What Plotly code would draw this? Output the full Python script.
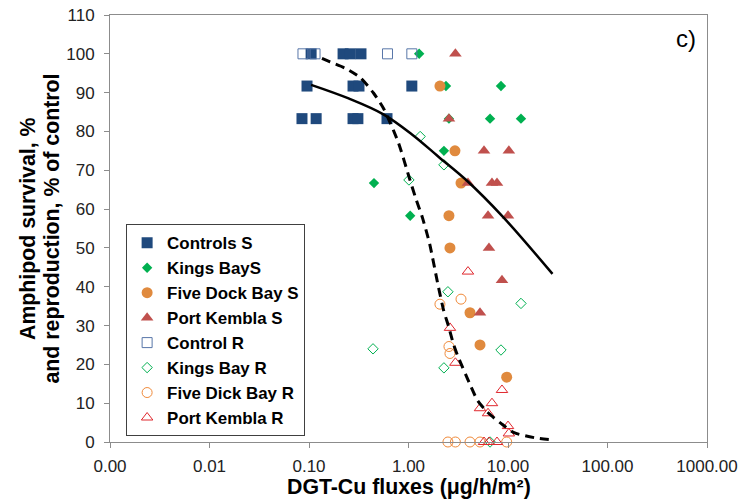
import plotly.graph_objects as go

# ---- data ----
controls_s_x = [0.105, 0.22, 0.26, 0.333, 0.0955, 0.277, 0.318, 1.08, 0.085, 0.118, 0.277, 0.31, 0.608]
controls_s_y = [100, 100, 100, 100, 91.7, 91.7, 91.7, 91.7, 83.3, 83.3, 83.3, 83.3, 83.3]

kings_s_x = [1.28, 2.38, 8.5, 2.55, 6.6, 13.5, 2.27, 0.45, 1.04]
kings_s_y = [100, 91.7, 91.7, 83.3, 83.3, 83.3, 75, 66.7, 58.3]

fivedock_s_x = [2.07, 2.93, 3.37, 2.55, 2.61, 4.15, 5.23, 9.7]
fivedock_s_y = [91.7, 75, 66.7, 58.3, 50, 33.3, 25, 16.7]

portk_s_x = [2.96, 2.55, 5.74, 10.2, 3.96, 6.9, 7.75, 6.3, 10.0, 6.44, 8.7, 5.23]
portk_s_y = [100, 83.3, 75, 75, 66.7, 66.7, 66.7, 58.3, 58.3, 50, 41.7, 33.3]

control_r_x = [0.087, 0.115, 0.615, 1.08]
control_r_y = [100, 100, 100, 100]

kings_r_x = [1.31, 2.27, 1.01, 2.49, 13.5, 8.5, 2.27, 0.44, 6.6]
kings_r_y = [78.7, 71.4, 67.5, 38.7, 35.7, 23.7, 19.1, 24, 0]

fivedick_r_x = [2.07, 3.37, 2.55, 2.61, 2.49, 2.96, 4.15, 5.23, 9.7]
fivedick_r_y = [35.5, 36.8, 24.6, 22.8, 0, 0, 0, 0, 0]

portk_r_x = [3.96, 2.61, 2.96, 8.7, 6.9, 5.23, 6.3, 10.0, 10.2, 5.74, 6.44, 7.75]
portk_r_y = [43.9, 29.4, 20.4, 13.4, 10, 8.7, 7.4, 4.1, 2.2, 0, 0, 0]

# fitted curves
solid_x = [0.105, 0.25, 0.56, 1.1, 2.0, 3.8, 8.9, 28]
solid_y = [92, 88.5, 84.4, 79.1, 73.5, 67.5, 58, 43.3]

dashed_x = [0.135, 0.163, 0.235, 0.33, 0.445, 0.565, 0.79, 1.02, 1.175, 1.38, 1.63, 1.96,
            2.25, 2.52, 2.83, 3.1, 4.09, 4.92, 6.2, 8.5, 11.5, 19.4, 27.6]
dashed_y = [98.8, 97.9, 96.2, 93.8, 89.9, 85.8, 77.2, 68.0, 63.0, 57.8, 51.1, 41.0,
            34.0, 29.9, 25.2, 22.4, 15.2, 10.8, 7.7, 4.8, 2.4, 1.0, 0.6]

x_tickvals = [0.001, 0.01, 0.1, 1, 10, 100, 1000]
x_ticktext = ["0.00", "0.01", "0.10", "1.00", "10.00", "100.00", "1000.00"]

y_title_lines = ["Amphipod survival, %", "and reproduction, % of control"]
x_title = "DGT-Cu fluxes (μg/h/m²)"
panel_label = "c)"

FONT = "Liberation Sans, Arial, sans-serif"

fig = go.Figure()

series = [
    ("Controls S", controls_s_x, controls_s_y, dict(symbol="square", size=11, color="#1F497D")),
    ("Kings BayS", kings_s_x, kings_s_y, dict(symbol="diamond", size=8, color="#00B050")),
    ("Five Dock Bay S", fivedock_s_x, fivedock_s_y, dict(symbol="circle", size=11, color="#E08A3E")),
    ("Port Kembla S", portk_s_x, portk_s_y, dict(symbol="triangle-up", size=11, color="#C0504D")),
    ("Control R", control_r_x, control_r_y,
     dict(symbol="square-open", size=10, color="#5876A8", line=dict(width=1))),
    ("Kings Bay R", kings_r_x, kings_r_y,
     dict(symbol="diamond-open", size=8, color="#00B050", line=dict(width=1))),
    ("Five Dick Bay R", fivedick_r_x, fivedick_r_y,
     dict(symbol="circle-open", size=10, color="#F08A3A", line=dict(width=1))),
    ("Port Kembla R", portk_r_x, portk_r_y,
     dict(symbol="triangle-up-open", size=10, color="#E0282E", line=dict(width=1))),
]

for name, xs, ys, mk in series:
    fig.add_trace(go.Scatter(
        x=xs, y=ys, mode="markers", name=name, marker=mk, cliponaxis=False,
    ))

fig.add_trace(go.Scatter(
    x=solid_x, y=solid_y, mode="lines", line=dict(color="black", width=2.5, shape="spline"),
    showlegend=False, hoverinfo="skip",
))
fig.add_trace(go.Scatter(
    x=dashed_x, y=dashed_y, mode="lines",
    line=dict(color="black", width=3, dash="9px,6px", shape="spline", smoothing=0.6),
    showlegend=False, hoverinfo="skip", cliponaxis=False,
))

# panel label
fig.add_annotation(
    x=0.965, y=0.944, xref="paper", yref="paper", text=panel_label, showarrow=False,
    xanchor="center", yanchor="middle",
    font=dict(family=FONT, size=24, color="black"),
)
# y-axis title (two rotated lines, tight spacing as in the reference)
for txt, xp in zip(y_title_lines, [-0.1382, -0.0988]):
    fig.add_annotation(
        x=xp, y=0.5, xref="paper", yref="paper", text=f"<b>{txt}</b>", showarrow=False,
        textangle=-90, xanchor="center", yanchor="middle",
        font=dict(family=FONT, size=21.3, color="black"),
    )
# x-axis title
fig.add_annotation(
    x=0.5, y=-0.1054, xref="paper", yref="paper", text=f"<b>{x_title}</b>", showarrow=False,
    xanchor="center", yanchor="middle",
    font=dict(family=FONT, size=21.3, color="black"),
)

fig.update_layout(
    width=744, height=503,
    margin=dict(l=110, r=37, t=15, b=61, autoexpand=False),
    paper_bgcolor="white", plot_bgcolor="white",
    font=dict(family=FONT, color="#222"),
    showlegend=True,
    legend=dict(
        x=0.027, y=0.51, xanchor="left", yanchor="top",
        bgcolor="white", bordercolor="#404040", borderwidth=1,
        font=dict(family=FONT, size=16.9, color="black", weight="bold"),
        tracegroupgap=0, itemwidth=30,
    ),
    xaxis=dict(
        type="log", range=[-3, 3], tickvals=x_tickvals, ticktext=x_ticktext,
        showgrid=False, zeroline=False,
        showline=True, linecolor="#8C8C8C", linewidth=1, mirror=True,
        ticks="outside", ticklen=5, tickcolor="#8C8C8C", ticklabelstandoff=4,
        tickfont=dict(family=FONT, size=17, color="#222"),
    ),
    yaxis=dict(
        range=[0, 110], dtick=10, tick0=0,
        showgrid=False, zeroline=False,
        showline=True, linecolor="#8C8C8C", linewidth=1, mirror=True,
        ticks="outside", ticklen=5, tickcolor="#8C8C8C", ticklabelstandoff=6,
        tickfont=dict(family=FONT, size=17, color="#222"),
    ),
)

fig.write_html(
    "out.html",
    config={"displayModeBar": False},
    post_script="document.body.style.margin='0px';",
)
